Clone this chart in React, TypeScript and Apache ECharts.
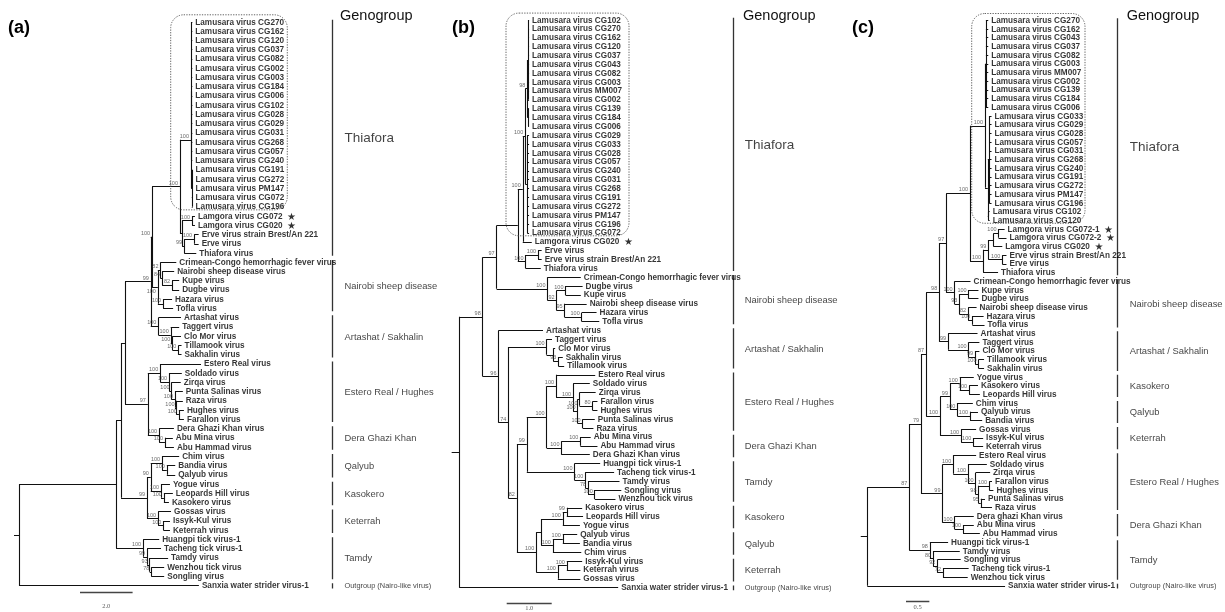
import React, { useEffect, useRef } from "react";
import * as echarts from "echarts";

// ---------------- DATA ----------------
const LAMUSARA_A = ["CG270","CG162","CG120","CG037","CG082","CG002","CG003","CG184","CG006","CG102","CG028","CG029","CG031","CG268","CG057","CG240","CG191","CG272","PM147","CG072","CG196"];
const LAMUSARA_B = ["CG102","CG270","CG162","CG120","CG037","CG043","CG082","CG003","MM007","CG002","CG139","CG184","CG006","CG029","CG033","CG028","CG057","CG240","CG031","CG268","CG191","CG272","PM147","CG196","CG072"];
const LAMUSARA_C = ["CG270","CG162","CG043","CG037","CG082","CG003","MM007","CG002","CG139","CG184","CG006","CG033","CG029","CG028","CG057","CG031","CG268","CG240","CG191","CG272","PM147","CG196","CG102","CG120"];

const STARRED = ["Lamgora virus CG072", "Lamgora virus CG020", "Lamgora virus CG072-1", "Lamgora virus CG072-2"];

const lam = (ids: string[], bl: number) => ids.map((id) => `Lamusara virus ${id}:${bl}`).join(",");

// ---- Tree (a): Newick clades, branch lengths in substitutions/site units ----
const A_LAM = `((${lam(LAMUSARA_A.slice(0, 16), 0.03)}):0.02,(${lam(LAMUSARA_A.slice(16), 0.03)}):0.03)100:0.42`;
const A_G = `((Lamgora virus CG072:0.11,Lamgora virus CG020:0.11)100:0.38,((Erve virus strain Brest/An 221:0.17,Erve virus:0.17)100:0.38,Thiafora virus:0.46)99:0.08):0.08`;
const A_NC = `((Crimean-Congo hemorrhagic fever virus:0.60,(Nairobi sheep disease virus:0.46,(Kupe virus:0.27,Dugbe virus:0.27)82:0.38)84:0.06)82:0.10,(Hazara virus:0.34,Tofla virus:0.38)100:0.20)100:0.22`;
const A_AC = `(Artashat virus:0.86,(Taggert virus:0.32,(Clo Mor virus:0.33,(Tillamook virus:0.12,Sakhalin virus:0.12)100:0.23)100:0.06)100:0.47)100:0.29`;
const A_ED = `((Estero Real virus:1.55,(Soldado virus:0.48,(Zirqa virus:0.35,(Punta Salinas virus:0.30,(Raza virus:0.24,(Hughes virus:0.19,Farallon virus:0.19)100:0.09)100:0.06)100:0.13)100:0.09)100:0.34)100:0.47,(Dera Ghazi Khan virus:0.56,(Abu Mina virus:0.30,Abu Hammad virus:0.34)100:0.22)100:0.43)97:0.87`;
const A_QKK = `(((Chim virus:0.65,(Bandia virus:0.32,Qalyub virus:0.32)100:0.18)100:0.43,(Yogue virus:0.34,(Leopards Hill virus:0.34,Kasokero virus:0.19)100:0.11)100:0.39)90:0.14,(Gossas virus:0.49,(Issyk-Kul virus:0.25,Keterrah virus:0.25)100:0.20)100:0.42)99:0.99`;
const A_TAM = `(Huangpi tick virus-1:0.61,(Tacheng tick virus-1:0.53,(Tamdy virus:0.70,(Wenzhou tick virus:0.49,Songling virus:0.49)78:0.06)93:0.10)99:0.15)100:1.03`;
const TREE_A = `(((((((${A_LAM},${A_G})100:1.06,${A_NC})100:0.05,${A_AC})99:0.98,${A_ED}):0.15,${A_QKK}):0.19,${A_TAM}):3.69,Sanxia water strider virus-1:6.84);`;

// ---- Tree (b) ----
const B_LAM = `(((${lam(LAMUSARA_B.slice(0, 10), 0.02)}):0.02,(${lam(LAMUSARA_B.slice(10, 13), 0.02)}):0.02)98:0.045,(${lam(LAMUSARA_B.slice(13), 0.04)}):0.045)100:0.055`;
const B_TC = `((${B_LAM},Lamgora virus CG020:0.2)100:0.11,((Erve virus:0.08,Erve virus strain Brest/An 221:0.08)100:0.28,Thiafora virus:0.34)100:0.17):0.47`;
const B_NC = `(Crimean-Congo hemorrhagic fever virus:0.74,((Dugbe virus:0.38,Kupe virus:0.34)100:0.20,(Nairobi sheep disease virus:0.49,(Hazara virus:0.33,Tofla virus:0.39)100:0.38)95:0.18)92:0.20)100:1.13`;
const B_TG = `(Taggert virus:0.12,(Clo Mor virus:0.04,(Sakhalin virus:0.10,Tillamook virus:0.13)93:0.11):0.15)100:0.85`;
const B_EST = `(Estero Real virus:0.87,(Soldado virus:0.37,((Zirqa virus:0.36,(Farallon virus:0.11,Hughes virus:0.11)80:0.29)100:0.04,(Punta Salinas virus:0.27,Raza virus:0.24)100:0.11)100:0.10)100:0.38)100:0.21`;
const B_DG = `((Abu Mina virus:0.23,Abu Hammad virus:0.38)100:0.42,Dera Ghazi Khan virus:0.63)100:0.33`;
const B_TAM = `(Huangpi tick virus-1:0.57,(Tacheng tick virus-1:0.64,(Tamdy virus:0.70,(Songling virus:0.59,Wenzhou tick virus:0.46)100:0.15)78:0.06)100:0.24)100:1.06`;
const B_W = `((((Kasokero virus:0.34,Leopards Hill virus:0.36)99:0.09,Yogue virus:0.38)100:0.48,((Qalyub virus:0.32,Bandia virus:0.38)100:0.22,Chim virus:0.63)100:0.26):0.11,((Issyk-Kul virus:0.34,Keterrah virus:0.30)100:0.20,Gossas virus:0.50)100:0.48)100:0.43`;
const B_V = `((${B_EST},${B_DG})100:0.44,${B_TAM})99:0.22`;
const TREE_B = `(((${B_TC},${B_NC})97:0.31,(Artashat virus:0.99,(${B_TG},(${B_V},${B_W})82:0.19)74:0.22)96:0.35)98:0.52,Sanxia water strider virus-1:3.53);`;

// ---- Tree (c) ----
const C_LAM = `((${lam(LAMUSARA_C.slice(0, 11), 0.05)}):0.02,((${lam(LAMUSARA_C.slice(11, 22), 0.05)}):0.03,(${lam(LAMUSARA_C.slice(22), 0.03)}):0.01):0.06)100:0.32`;
const C_K = `((((Lamgora virus CG072-1:0.13,Lamgora virus CG072-2:0.17)100:0.11,Lamgora virus CG020:0.19):0.11,(Erve virus strain Brest/An 221:0.09,Erve virus:0.09)100:0.30)99:0.11,Thiafora virus:0.32)100:0.28`;
const C_NC = `(Crimean-Congo hemorrhagic fever virus:0.34,((Kupe virus:0.21,Dugbe virus:0.21)100:0.20,(Nairobi sheep disease virus:0.18,(Hazara virus:0.24,Tofla virus:0.26)100:0.09)82:0.19)93:0.10)100:0.18`;
const C_AC = `(Artashat virus:0.63,(Taggert virus:0.23,(Clo Mor virus:0.09,(Tillamook virus:0.12,Sakhalin virus:0.12)100:0.07)99:0.14)100:0.44)99:0.19`;
const C_KQK = `(((Yogue virus:0.30,(Kasokero virus:0.19,Leopards Hill virus:0.23)100:0.20)100:0.21,(Chim virus:0.33,(Qalyub virus:0.17,Bandia virus:0.26)100:0.27)100:0.16)99:0.21,(Gossas virus:0.32,(Issyk-Kul virus:0.21,Keterrah virus:0.21)100:0.26)100:0.45)100:0.30`;
const C_ED = `((Estero Real virus:0.49,(Soldado virus:0.40,(Zirqa virus:0.31,((Farallon virus:0.06,Hughes virus:0.09)100:0.23,(Punta Salinas virus:0.09,Raza virus:0.24)95:0.05)98:0.06)100:0.16)100:0.32)100:0.23,(Dera ghazi Khan virus:0.41,(Abu Mina virus:0.23,Abu Hammad virus:0.36)100:0.18)100:0.26)99:0.46`;
const C_TAM = `(Huangpi tick virus-1:0.39,(Tamdy virus:0.57,(Songling virus:0.50,(Tacheng tick virus-1:0.55,Wenzhou tick virus:0.53)72:0.12)92:0.09)80:0.07)98:0.44`;
const TREE_C = `(((((((${C_LAM},${C_K})100:0.51,${C_NC})97:0.15,${C_AC})98:0.28,${C_KQK})87:0.11,${C_ED})79:0.25,${C_TAM})87:0.90,Sanxia water strider virus-1:2.95);`;

// Genogroups: [name, first tip row, last tip row]
const GROUPS_A: [string, number, number][] = [["Thiafora", 0, 25], ["Nairobi sheep disease", 26, 31], ["Artashat / Sakhalin", 32, 36], ["Estero Real / Hughes", 37, 43], ["Dera Ghazi Khan", 44, 46], ["Qalyub", 47, 49], ["Kasokero", 50, 52], ["Keterrah", 53, 55], ["Tamdy", 56, 60], ["Outgroup (Nairo-like virus)", 61, 61]];
const GROUPS_B: [string, number, number][] = [["Thiafora", 0, 28], ["Nairobi sheep disease", 29, 34], ["Artashat / Sakhalin", 35, 39], ["Estero Real / Hughes", 40, 46], ["Dera Ghazi Khan", 47, 49], ["Tamdy", 50, 54], ["Kasokero", 55, 57], ["Qalyub", 58, 60], ["Keterrah", 61, 63], ["Outgroup (Nairo-like virus)", 64, 64]];
const GROUPS_C: [string, number, number][] = [["Thiafora", 0, 29], ["Nairobi sheep disease", 30, 35], ["Artashat / Sakhalin", 36, 40], ["Kasokero", 41, 43], ["Qalyub", 44, 46], ["Keterrah", 47, 49], ["Estero Real / Hughes", 50, 56], ["Dera Ghazi Khan", 57, 59], ["Tamdy", 60, 64], ["Outgroup (Nairo-like virus)", 65, 65]];

const SCALE_LENGTHS = [2.0, 1.0, 0.5];
const SCALE_LABELS = ["2.0", "1.0", "0.5"];
const PANEL_TAGS = ["(a)", "(b)", "(c)"];

// ---------------- LAYOUT ----------------
const W = 1225;
const H = 612;
const FONT = "'Liberation Sans', Arial, sans-serif";
const TIP_FONT = 8.2;
const BOOT_FONT = 5.5;

const PANELS = [
  { tree: TREE_A, groups: GROUPS_A, lamCount: LAMUSARA_A.length, rootPx: 19, ppu: 26.3, tipTop: 22, rowGap: 9.24, stub: 0.19, barPx: 332.3, labelPx: 344, headerPx: 340, tagPx: 8, box: [170.7, 287.3], scaleX0: 80, scaleY: 592.3, scaleLabelY: 605 },
  { tree: TREE_B, groups: GROUPS_B, lamCount: LAMUSARA_B.length, rootPx: 459.3, ppu: 45, tipTop: 20, rowGap: 8.87, stub: 0.17, barPx: 733.3, labelPx: 744.3, headerPx: 743, tagPx: 452, box: [506, 629], scaleX0: 506.7, scaleY: 603.3, scaleLabelY: 607.8 },
  { tree: TREE_C, groups: GROUPS_C, lamCount: LAMUSARA_C.length, rootPx: 867.3, ppu: 46.7, tipTop: 20.3, rowGap: 8.7, stub: 0.14, barPx: 1117.3, labelPx: 1129.3, headerPx: 1126.7, tagPx: 852, box: [971.7, 1085], scaleX0: 906, scaleY: 601.3, scaleLabelY: 606.5 },
];

type TNode = { name: string; support: string; len: number; children: TNode[]; x: number; y: number };

function parseNewick(s: string): TNode {
  let i = 0;
  const stop = ":,();";
  const skipWs = () => { while (i < s.length && /\s/.test(s[i])) i++; };
  const readToken = () => { const st = i; while (i < s.length && !stop.includes(s[i])) i++; return s.slice(st, i).trim(); };
  const readLen = () => { skipWs(); if (s[i] === ":") { i++; return parseFloat(readToken()); } return 0; };
  const parseNode = (): TNode => {
    skipWs();
    if (s[i] === "(") {
      i++;
      const children: TNode[] = [];
      for (;;) {
        children.push(parseNode());
        skipWs();
        if (s[i] === ",") { i++; continue; }
        if (s[i] === ")") { i++; break; }
        throw new Error("Bad newick near " + i);
      }
      const support = readToken();
      const len = readLen();
      return { name: "", support, len, children, x: 0, y: 0 };
    }
    const name = readToken();
    const len = readLen();
    return { name, support: "", len, children: [], x: 0, y: 0 };
  };
  return parseNode();
}

function layoutTree(root: TNode) {
  const tips: TNode[] = [];
  const nodes: TNode[] = [];
  let row = 0;
  const rec = (n: TNode, depth: number) => {
    n.x = depth;
    nodes.push(n);
    if (!n.children.length) { n.y = row++; tips.push(n); return; }
    n.children.forEach((c) => rec(c, depth + c.len));
    n.y = (n.children[0].y + n.children[n.children.length - 1].y) / 2;
  };
  rec(root, 0);
  return { tips, nodes };
}

const hidden = { symbolSize: 1, itemStyle: { color: "rgba(0,0,0,0)" }, silent: true };
const plainLabel = { textBorderWidth: 0, textShadowBlur: 0 };

function buildOption() {
  const grid: any[] = [];
  const xAxis: any[] = [];
  const yAxis: any[] = [];
  const series: any[] = [];
  const graphic: any[] = [];

  PANELS.forEach((p, i) => {
    const root = parseNewick(p.tree);
    const { tips, nodes } = layoutTree(root);
    const toX = (px: number) => (px - p.rootPx) / p.ppu;
    const toY = (py: number) => (py - p.tipTop) / p.rowGap;
    const pxX = (x: number) => p.rootPx + x * p.ppu;
    const pxY = (y: number) => p.tipTop + y * p.rowGap;
    const ax = { xAxisIndex: i, yAxisIndex: i };

    grid.push({ left: 0, top: 0, width: W, height: H, show: false });
    xAxis.push({ type: "value", gridIndex: i, min: toX(0), max: toX(W), show: false });
    yAxis.push({ type: "value", gridIndex: i, min: toY(0), max: toY(H), inverse: true, show: false });

    const segs: number[][][] = [];
    nodes.forEach((n) => {
      if (!n.children.length) return;
      segs.push([[n.x, n.children[0].y], [n.x, n.children[n.children.length - 1].y]]);
      n.children.forEach((c) => segs.push([[n.x, c.y], [c.x, c.y]]));
    });
    segs.push([[-p.stub, root.y], [0, root.y]]);

    series.push({
      type: "lines", coordinateSystem: "cartesian2d", ...ax, silent: true, z: 2,
      lineStyle: { color: "#111", width: 1.1, opacity: 1 },
      data: segs.map((c) => ({ coords: c })),
    });

    // tip names
    series.push({
      type: "scatter", ...ax, ...hidden, z: 3,
      data: tips.map((t) => ({ value: [t.x, t.y], name: t.name })),
      label: {
        show: true, position: "right", distance: 2.5, fontFamily: FONT, fontWeight: "bold", fontSize: TIP_FONT, color: "#000", ...plainLabel,
        formatter: (q: any) => (STARRED.includes(q.name) ? `${q.name}  {s|★}` : q.name),
        rich: { s: { fontSize: 10, fontFamily: "'DejaVu Sans', sans-serif", color: "#000" } },
      },
    });

    // bootstrap supports: above-left of node, moved below when it would collide
    const placed: number[][] = [];
    const hit = (r: number[]) => placed.some((q) => r[0] < q[2] && r[2] > q[0] && r[1] < q[3] && r[3] > q[1]);
    const bootData = nodes.filter((n) => n.children.length && n.support).map((n) => {
      const w = n.support.length * 0.556 * BOOT_FONT;
      const right = pxX(n.x) - 1.5;
      let dy = -4;
      let r = [right - w, pxY(n.y) + dy - 3, right, pxY(n.y) + dy + 3];
      if (hit(r)) { dy = 4; r = [right - w, pxY(n.y) + dy - 3, right, pxY(n.y) + dy + 3]; }
      placed.push(r);
      return { value: [n.x, n.y], name: n.support, label: { offset: [0, dy] } };
    });
    series.push({
      type: "scatter", ...ax, ...hidden, z: 3,
      data: bootData,
      label: { show: true, position: "left", distance: 1.5, fontFamily: FONT, fontSize: BOOT_FONT, color: "#444", formatter: "{b}", ...plainLabel },
    });

    // genogroup bars and names
    const barX = toX(p.barPx);
    series.push({
      type: "lines", coordinateSystem: "cartesian2d", ...ax, silent: true,
      lineStyle: { color: "#333", width: 1.3, opacity: 1 },
      data: p.groups.map(([, a, b]) => ({ coords: [[barX, a - 0.25], [barX, b + 0.3]] })),
    });
    series.push({
      type: "scatter", ...ax, ...hidden,
      data: p.groups.map(([name, a, b]) => ({
        value: [toX(p.labelPx), (a + b) / 2], name,
        label: { fontSize: name === "Thiafora" ? 13.5 : name.startsWith("Outgroup") ? 7.4 : 9.4 },
      })),
      label: { show: true, position: "right", distance: 0, fontFamily: FONT, color: "#111", formatter: "{b}", ...plainLabel },
    });

    // scale bar
    const sx = toX(p.scaleX0);
    const sy = toY(p.scaleY);
    series.push({
      type: "lines", coordinateSystem: "cartesian2d", ...ax, silent: true,
      lineStyle: { color: "#444", width: 1.4, opacity: 1 },
      data: [{ coords: [[sx, sy], [sx + SCALE_LENGTHS[i], sy]] }],
    });
    series.push({
      type: "scatter", ...ax, ...hidden,
      data: [{ value: [sx + SCALE_LENGTHS[i] / 2, toY(p.scaleLabelY)], name: SCALE_LABELS[i] }],
      label: { show: true, position: "inside", fontFamily: "'Liberation Serif', serif", fontSize: 6.5, color: "#333", formatter: "{b}", ...plainLabel },
    });

    const top = pxY(-0.78);
    const bottom = pxY(p.lamCount - 1 + 0.33);
    graphic.push({
      type: "rect", silent: true, z: 10,
      shape: { x: p.box[0], y: top, width: p.box[1] - p.box[0], height: bottom - top, r: 13 },
      style: { fill: "none", stroke: "#555", lineWidth: 0.9, lineDash: [1.3, 1.3] },
    });
    graphic.push({
      type: "text", x: p.tagPx, y: 27, silent: true,
      style: { text: PANEL_TAGS[i], fontSize: 18, fontWeight: "bold", fontFamily: FONT, fill: "#000", align: "left", verticalAlign: "middle" },
    });
    graphic.push({
      type: "text", x: p.headerPx, y: 15, silent: true,
      style: { text: "Genogroup", fontSize: 14.5, fontFamily: FONT, fill: "#111", align: "left", verticalAlign: "middle" },
    });
  });

  return { animation: false, color: ["#111"], backgroundColor: "#fff", grid, xAxis, yAxis, series, graphic };
}

export default function App() {
  const ref = useRef<HTMLDivElement>(null);
  useEffect(() => {
    const chart = echarts.init(ref.current!, null, { renderer: "svg" });
    chart.setOption(buildOption() as any);
    return () => chart.dispose();
  }, []);
  return (
    <div
      ref={ref}
      style={{ position: "fixed", left: 0, top: 0, width: W, height: H, background: "#fff", filter: "grayscale(1)" }}
    />
  );
}
